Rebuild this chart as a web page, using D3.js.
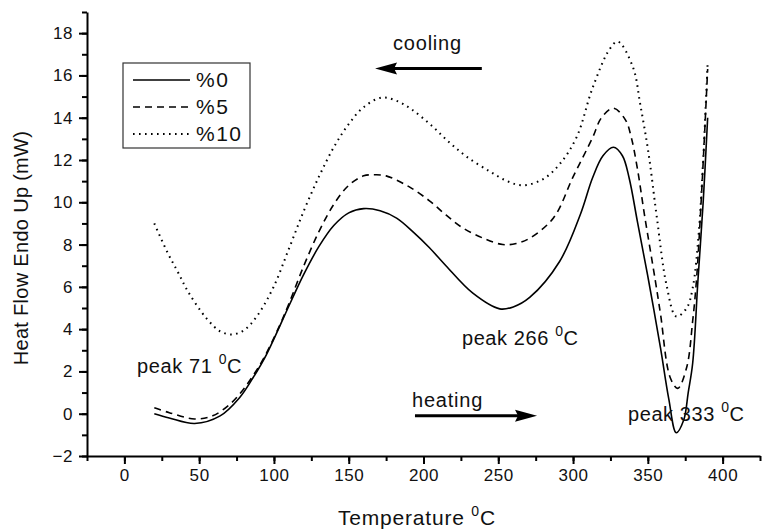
<!DOCTYPE html>
<html>
<head>
<meta charset="utf-8">
<title>DSC curves</title>
<style>
    body { margin: 0; background: #fff; }
    svg text { font-family: "Liberation Sans", Arial, sans-serif; fill: #111; }
    .tick text { font-size: 17px; letter-spacing: 0.6px; }
</style>
</head>
<body>
<div id="graph"></div>

<script src="https://d3js.org/d3.v7.min.js"></script>
<script>

// %0 (solid)
var t0  = [20, 30, 47, 64, 77, 86, 95, 111, 120, 130, 140, 150, 160, 171, 182, 193, 204, 215, 233, 251, 260, 271, 291, 305, 313, 320, 327, 333, 337.5, 343, 350.5, 358.5, 364, 369, 374, 377, 380, 383.5, 387, 390];
var hf0 = [0, -0.2, -0.46, -0.1, 0.76, 1.7, 2.8, 5.25, 6.6, 7.9, 8.9, 9.5, 9.7, 9.6, 9.25, 8.6, 7.85, 7.0, 5.7, 4.96, 5.05, 5.5, 7.2, 9.45, 11.15, 12.2, 12.6, 12.2, 11.15, 9.1, 6.3, 3.1, 0.7, -0.9, -0.3, 1.0, 2.4, 6.3, 10.0, 14.0];

// %5 (dashed)
var t5  = [20, 30, 47, 59, 70.6, 79, 86, 93, 104, 110, 120, 130, 140, 150, 160, 168, 175, 190, 204, 215, 226, 240, 253, 262, 271, 287, 300, 313, 319, 327, 335, 339, 343, 348, 355, 358.5, 365, 370, 376, 380, 382.5, 386, 390];
var hf5 = [0.28, 0.05, -0.25, -0.1, 0.45, 1.1, 1.8, 2.6, 4.2, 5.2, 7.0, 8.6, 9.9, 10.8, 11.25, 11.3, 11.25, 10.75, 10.07, 9.4, 8.8, 8.3, 8.0, 8.05, 8.3, 9.27, 11.2, 13.05, 14.0, 14.45, 13.9, 13.05, 11.6, 9.3, 6.3, 4.7, 1.7, 1.2, 2.2, 4.4, 6.3, 10.5, 16.3];

// %10 (dotted)
var t10  = [20, 29, 36, 42.6, 55, 64, 72, 80, 88.5, 99.5, 110, 120, 130, 140, 150, 160, 172, 182, 192, 205, 217, 229, 244.5, 256, 266.5, 280, 291, 302.5, 313, 324.5, 330, 340, 345, 350.5, 356, 362.6, 369, 376, 380, 384, 387, 390];
var hf10 = [9.0, 7.6, 6.67, 5.77, 4.5, 3.9, 3.75, 3.95, 4.6, 5.96, 7.8, 9.6, 11.2, 12.6, 13.7, 14.5, 14.95, 14.8, 14.4, 13.65, 12.85, 12.15, 11.45, 11.0, 10.8, 11.1, 11.8, 13.1, 15.4, 17.25, 17.6, 16.4, 14.6, 12.3, 9.3, 6.05, 4.6, 5.0, 5.95, 8.5, 12.0, 16.6];

var seriesNames = ["%0", "%5", "%10"];
var xTicks = [0, 50, 100, 150, 200, 250, 300, 350, 400];
var yTicks = [-2, 0, 2, 4, 6, 8, 10, 12, 14, 16, 18];

// annotations in data units
var peakLabels = [
    {x: 8.5, y: 1.94, text: "peak 71 "},
    {x: 225.7, y: 3.26, text: "peak 266 "},
    {x: 336.7, y: -0.33, text: "peak 333 "}
];
var arrows = [
    {label: "cooling", lx: 179.6, ly: 17.2, from: 239, to: 167.6, y: 16.33},
    {label: "heating", lx: 192.3, ly: 0.33, from: 194.3, to: 275.9, y: -0.1}
];

var W = 762, H = 531;
var margin = {top: 12, right: 2, bottom: 75, left: 87},
    width = W - margin.left - margin.right,
    height = H - margin.top - margin.bottom;

var xScale = d3.scaleLinear().domain([-25, 425]).range([0, width]);
var yScale = d3.scaleLinear().domain([-2, 19]).range([height, 0]);

var svg = d3.select("#graph").append("svg")
    .attr("width", W)
    .attr("height", H)
    .append("g")
    .attr("transform", "translate(" + margin.left + "," + margin.top + ")");

// minor ticks first, then major axes on top
svg.append("g")
    .attr("transform", "translate(0," + height + ")")
    .call(d3.axisBottom(xScale).tickValues(d3.range(-25, 426, 25)).tickSize(5).tickFormat(""))
    .call(function(g) { g.select(".domain").remove(); g.selectAll("line").attr("stroke-width", 2); });

svg.append("g")
    .call(d3.axisLeft(yScale).tickValues(d3.range(-2, 19.01, 1)).tickSize(5).tickFormat(""))
    .call(function(g) { g.select(".domain").remove(); g.selectAll("line").attr("stroke-width", 2); });

svg.append("g")
    .attr("class", "x axis")
    .attr("transform", "translate(0," + height + ")")
    .call(d3.axisBottom(xScale).tickValues(xTicks).tickSize(8).tickSizeOuter(0).tickPadding(5))
    .call(function(g) {
        g.select(".domain").attr("stroke-width", 2);
        g.selectAll("line").attr("stroke-width", 2);
        g.selectAll("text").attr("fill", "#111");
    });

svg.append("g")
    .attr("class", "y axis")
    .call(d3.axisLeft(yScale).tickValues(yTicks).tickSize(8).tickSizeOuter(0).tickPadding(6))
    .call(function(g) {
        g.select(".domain").attr("stroke-width", 2);
        g.selectAll("line").attr("stroke-width", 2);
        g.selectAll("text").attr("fill", "#111");
    });

// curves
var line = d3.line()
    .x(function(d) { return xScale(d[0]); })
    .y(function(d) { return yScale(d[1]); })
    .curve(d3.curveCatmullRom.alpha(0.5));

var dashes = [null, "7,5", "1.6,4.4"];
var series = [d3.zip(t0, hf0), d3.zip(t5, hf5), d3.zip(t10, hf10)];

series.forEach(function(s, i) {
    svg.append("path")
        .datum(s)
        .attr("fill", "none")
        .attr("stroke", "#000")
        .attr("stroke-width", i == 2 ? 2 : 1.6)
        .attr("stroke-dasharray", dashes[i])
        .attr("d", line);
});

// superscript degree helper
function degreeText(sel, before, after, size, supSize) {
    sel.append("tspan").text(before);
    sel.append("tspan").attr("font-size", supSize).attr("dy", -size * 0.42).text("0");
    sel.append("tspan").attr("dy", size * 0.42).text(after);
}

peakLabels.forEach(function(p) {
    var t = svg.append("text")
        .attr("x", xScale(p.x))
        .attr("y", yScale(p.y))
        .attr("font-size", 20)
        .attr("letter-spacing", 0.6);
    degreeText(t, p.text, "C", 20, 14);
});

arrows.forEach(function(a) {
    svg.append("text")
        .attr("x", xScale(a.lx))
        .attr("y", yScale(a.ly))
        .attr("font-size", 20)
        .attr("letter-spacing", 0.8)
        .text(a.label);

    var dir = a.to > a.from ? 1 : -1;
    var x1 = xScale(a.from), x2 = xScale(a.to), y = yScale(a.y);
    svg.append("line")
        .attr("x1", x1).attr("x2", x2 - dir * 14)
        .attr("y1", y).attr("y2", y)
        .attr("stroke", "#000")
        .attr("stroke-width", 3);
    svg.append("path")
        .attr("d", "M" + x2 + "," + y +
            "L" + (x2 - dir * 22) + "," + (y - 6) +
            "L" + (x2 - dir * 19) + "," + y +
            "L" + (x2 - dir * 22) + "," + (y + 6) + "Z")
        .attr("fill", "#000");
});

// legend
var legend = svg.append("g")
    .attr("transform", "translate(" + (123 - margin.left) + "," + (63 - margin.top) + ")");

legend.append("rect")
    .attr("width", 127).attr("height", 85)
    .attr("fill", "#fff")
    .attr("stroke", "#333")
    .attr("stroke-width", 1.2);

seriesNames.forEach(function(name, i) {
    var ly = 17 + i * 27;
    legend.append("line")
        .attr("x1", 10).attr("x2", 67)
        .attr("y1", ly).attr("y2", ly)
        .attr("stroke", "#000")
        .attr("stroke-width", i == 2 ? 2 : 1.6)
        .attr("stroke-dasharray", dashes[i]);
    legend.append("text")
        .attr("x", 73)
        .attr("y", ly + 7)
        .attr("font-size", 21)
        .attr("letter-spacing", 1.5)
        .text(name);
});

// axis titles
var xt = svg.append("text")
    .attr("x", 338 - margin.left)
    .attr("y", 525 - margin.top)
    .attr("font-size", 21)
    .attr("letter-spacing", 0.8);
degreeText(xt, "Temperature ", "C", 21, 14);

svg.append("text")
    .attr("transform", "translate(" + (28 - margin.left) + "," + (248 - margin.top) + ") rotate(-90)")
    .attr("text-anchor", "middle")
    .attr("font-size", 20)
    .attr("letter-spacing", 0.3)
    .text("Heat Flow Endo Up (mW)");

</script>
</body>
</html>
